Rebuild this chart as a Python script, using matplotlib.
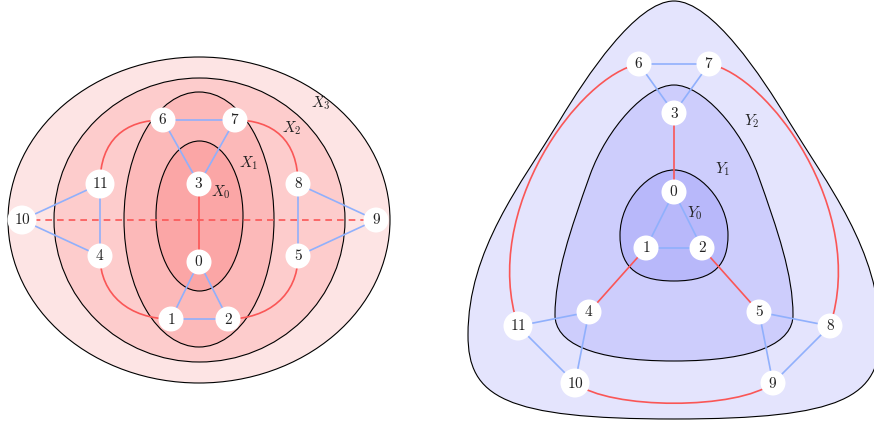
import numpy as np
import matplotlib.pyplot as plt
from matplotlib import patches
from matplotlib.path import Path

plt.rcParams['mathtext.fontset'] = 'cm'

# ---- left graph (X layers) ----
left_nodes = {0: (199, 262), 1: (171, 319), 2: (228, 319), 3: (199, 184),
              4: (100, 256), 5: (298, 256), 6: (163, 120), 7: (235, 120),
              8: (298, 184), 9: (376, 220), 10: (22, 220), 11: (100, 184)}
left_blue = [(6, 7), (6, 3), (7, 3), (0, 1), (0, 2), (1, 2),
             (11, 4), (10, 11), (10, 4), (8, 5), (8, 9), (5, 9)]
left_red = [(3, 0)]
left_dashed = [(10, 9)]
# curved red edges: (start, end, ctrl1, ctrl2)
left_curved = [(11, 6, (100, 140), (125, 120)), (8, 7, (298, 140), (273, 120)),
               (4, 1, (100, 295), (130, 319)), (5, 2, (298, 295), (268, 319))]
# ellipses: centre, width, height, colour, label, label pos
x_layers = [((199, 220), 382, 326, '#fde4e4', r'$X_3$', (321, 103)),
            ((199.5, 220), 291, 284, '#fdcccc', r'$X_2$', (292, 128)),
            ((199, 219.5), 150, 255, '#fcb9b9', r'$X_1$', (249, 163)),
            ((199.5, 216), 87, 150, '#fba6a6', r'$X_0$', (221, 192))]

# ---- right graph (Y layers) ----
right_nodes = {0: (674, 192), 1: (646, 248), 2: (702, 248), 3: (674, 113),
               4: (589, 312), 5: (759, 312), 6: (639, 64), 7: (709, 64),
               8: (830, 326), 9: (773, 383), 10: (575, 383), 11: (518, 326)}
right_blue = [(6, 7), (6, 3), (7, 3), (0, 1), (0, 2), (1, 2),
              (4, 11), (11, 10), (4, 10), (5, 8), (8, 9), (5, 9)]
right_red = [(3, 0), (1, 4), (2, 5)]
right_curved = [(6, 11, (580, 75), (480, 210)), (7, 8, (768, 75), (868, 210)),
                (10, 9, (610, 410), (738, 410))]

# left half of each rounded triangle as cubic bezier pieces
# (start, ctrl1, ctrl2, end), mirrored about x = 674
y2_half = [((674, 1), (636, 1), (586, 77), (560, 120)),
           ((560, 120), (521, 184), (468, 250), (468, 335)),
           ((468, 335), (468, 397), (504, 419), (674, 419))]
y1_half = [((674, 85), (646, 85), (607, 128), (590, 175)),
           ((590, 175), (570, 231), (555, 275), (555, 315)),
           ((555, 315), (555, 342), (590, 361), (674, 361))]
y0_half = [((674, 170), (650, 170), (620, 200), (620, 235)),
           ((620, 235), (620, 263), (632, 281), (674, 281))]
y_layers = [(y2_half, '#e4e4fd', r'$Y_2$', (752, 121)),
            (y1_half, '#cdcdfc', r'$Y_1$', (723, 169)),
            (y0_half, '#b8b8fa', r'$Y_0$', (695, 213))]

BLUE = '#90b0fc'
RED = '#fa5656'


def outline_path(half, cx=674):
    verts = [half[0][0]]
    for _, c1, c2, e in half:
        verts += [c1, c2, e]
    for s, c1, c2, _ in reversed(half):
        verts += [(2 * cx - c2[0], c2[1]), (2 * cx - c1[0], c1[1]), (2 * cx - s[0], s[1])]
    codes = [Path.MOVETO] + [Path.CURVE4] * (len(verts) - 1)
    return Path(verts, codes)


def curve(ax, a, b, c1, c2):
    path = Path([a, c1, c2, b], [Path.MOVETO, Path.CURVE4, Path.CURVE4, Path.CURVE4])
    ax.add_patch(patches.PathPatch(path, fc='none', ec=RED, lw=1.2, zorder=3))


def draw_graph(ax, nodes, blue, red, curved, dashed=()):
    for a, b in blue:
        ax.plot(*zip(nodes[a], nodes[b]), color=BLUE, lw=1.2, zorder=3)
    for a, b in red:
        ax.plot(*zip(nodes[a], nodes[b]), color=RED, lw=1.2, zorder=3)
    for a, b in dashed:
        ax.plot(*zip(nodes[a], nodes[b]), color=RED, lw=1.2, ls=(0, (4, 3)), zorder=3)
    for a, b, c1, c2 in curved:
        curve(ax, nodes[a], nodes[b], c1, c2)
    for k, (x, y) in nodes.items():
        r = 14.5 if k >= 10 else 12.5
        ax.add_patch(patches.Circle((x, y), r, fc='white', ec='none', zorder=4))
        ax.text(x, y, '$%d$' % k, ha='center', va='center', fontsize=11, color='#222222', zorder=5)


fig = plt.figure(figsize=(8.74, 4.24), dpi=100)
ax = fig.add_axes([0, 0, 1, 1])
ax.set_xlim(0, 874)
ax.set_ylim(424, 0)
ax.axis('off')

for (cx, cy), w, h, col, lab, (lx, ly) in x_layers:
    ax.add_patch(patches.Ellipse((cx, cy), w, h, fc=col, ec='black', lw=0.8, zorder=1))
    ax.text(lx, ly, lab, ha='center', va='center', fontsize=11, color='#222222', zorder=5)

for half, col, lab, (lx, ly) in y_layers:
    ax.add_patch(patches.PathPatch(outline_path(half), fc=col, ec='black', lw=0.8, zorder=1))
    ax.text(lx, ly, lab, ha='center', va='center', fontsize=11, color='#222222', zorder=5)

draw_graph(ax, left_nodes, left_blue, left_red, left_curved, left_dashed)
draw_graph(ax, right_nodes, right_blue, right_red, right_curved)

fig.savefig('out.png', dpi=100)
